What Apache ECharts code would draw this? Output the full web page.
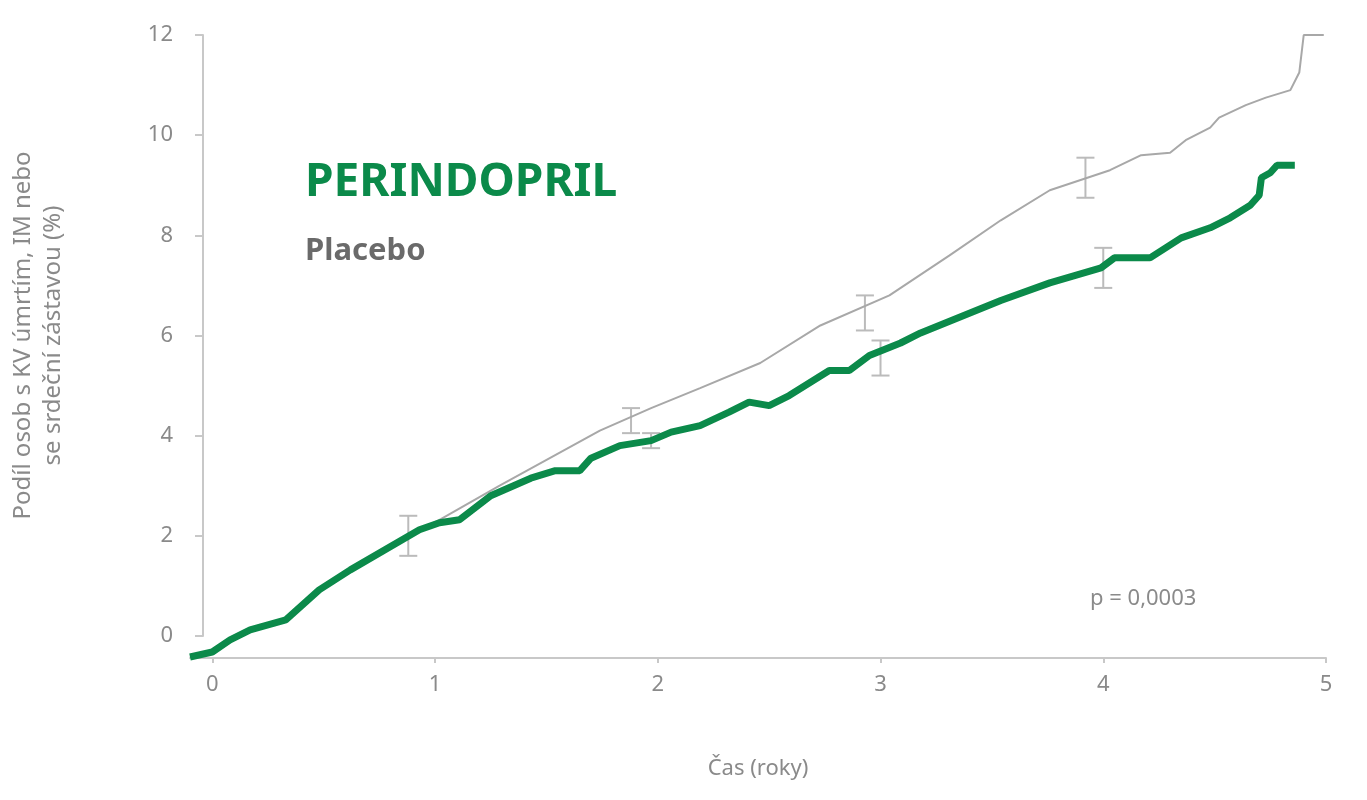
<!DOCTYPE html><html><head><meta charset="utf-8">
<script src="https://cdn.jsdelivr.net/npm/echarts@6/dist/echarts.min.js"></script>
<style>body{margin:0}#c{width:1367px;height:800px}</style></head><body><div id="c"></div>
<script>
const periX=[-0.1,0,0.08,0.17,0.33,0.48,0.62,0.93,1.02,1.11,1.25,1.43,1.54,1.65,1.7,1.83,1.97,2.06,2.19,2.32,2.41,2.5,2.59,2.77,2.86,2.95,3.09,3.18,3.54,3.76,3.99,4.05,4.21,4.28,4.35,4.48,4.57,4.66,4.7,4.71,4.75,4.78,4.86];
const periY=[-0.42,-0.32,-0.08,0.12,0.32,0.92,1.32,2.12,2.26,2.32,2.8,3.15,3.3,3.3,3.55,3.8,3.9,4.07,4.2,4.47,4.67,4.6,4.8,5.3,5.3,5.6,5.85,6.05,6.7,7.05,7.35,7.55,7.55,7.75,7.95,8.15,8.35,8.6,8.8,9.15,9.25,9.4,9.4];
const placX=[-0.1,0,0.08,0.17,0.33,0.48,0.62,0.93,1.02,1.29,1.74,1.97,2.19,2.46,2.73,3.04,3.31,3.54,3.76,4.03,4.17,4.3,4.37,4.48,4.52,4.64,4.73,4.84,4.88,4.9,4.99];
const placY=[-0.42,-0.32,-0.08,0.12,0.32,0.92,1.32,2.12,2.32,3.0,4.1,4.55,4.95,5.45,6.2,6.8,7.6,8.3,8.9,9.3,9.6,9.65,9.9,10.15,10.35,10.6,10.75,10.9,11.25,12.0,12.0];
const errX=[0.88,1.88,2.93,3.92,1.97,3.0,4.0];
const errY=[2.0,4.3,6.45,9.15,3.9,5.55,7.35];
const errE=[0.4,0.25,0.35,0.4,0.15,0.35,0.4];
const xTicks=[0,1,2,3,4,5];
const yTicks=[0,2,4,6,8,10,12];
const grey='#8a8a8a';
const ch=echarts.init(document.getElementById('c'));
ch.setOption({
 animation:false,
 grid:[{left:190,right:41,top:35,bottom:142},{left:188,right:41,top:35,bottom:164}],
 xAxis:[{type:'value',gridIndex:0,min:-0.1,max:5,splitLine:{show:false},
   axisLine:{onZero:false,lineStyle:{color:'#c8c8c8',width:2}},
   axisTick:{show:true,length:5,customValues:xTicks,lineStyle:{color:'#c8c8c8',width:2}},
   axisLabel:{color:grey,fontSize:22,margin:16,fontFamily:'Noto Sans',customValues:xTicks},
   name:'Čas (roky)',nameLocation:'middle',nameGap:100,nameTextStyle:{color:grey,fontSize:22,fontFamily:'Noto Sans'}},
  {type:'value',gridIndex:1,min:-0.1,max:5,show:false}],
 yAxis:[{type:'value',gridIndex:0,min:-0.44,max:12,show:false},
  {type:'value',gridIndex:1,min:0,max:12,interval:2,splitLine:{show:false},
   axisLine:{show:true,onZero:false,lineStyle:{color:'#c8c8c8',width:2}},axisTick:{show:true,length:8,lineStyle:{color:'#c8c8c8',width:2}},
   axisLabel:{color:grey,fontSize:22,margin:30,fontFamily:'Noto Sans'},
   name:'Podíl osob s KV úmrtím, IM nebo\nse srdeční zástavou (%)',nameLocation:'middle',nameGap:135,
   nameTextStyle:{color:grey,fontSize:24,fontFamily:'Noto Sans',lineHeight:30}}],
 series:[
  {type:'line',xAxisIndex:0,yAxisIndex:0,data:placX.map((x,i)=>[x,placY[i]]),showSymbol:false,lineStyle:{color:'#a8a8a8',width:2}},
  {type:'custom',xAxisIndex:0,yAxisIndex:0,data:errX.map((x,i)=>[x,errY[i]-errE[i],errY[i]+errE[i]]),
   renderItem:(p,api)=>{const a=api.coord([api.value(0),api.value(1)]),b=api.coord([api.value(0),api.value(2)]);const s={stroke:'#bbbbbb',lineWidth:2};
    return {type:'group',children:[{type:'line',shape:{x1:a[0],y1:a[1],x2:b[0],y2:b[1]},style:s},{type:'line',shape:{x1:a[0]-9,y1:a[1],x2:a[0]+9,y2:a[1]},style:s},{type:'line',shape:{x1:b[0]-9,y1:b[1],x2:b[0]+9,y2:b[1]},style:s}]};}},
  {type:'line',xAxisIndex:0,yAxisIndex:0,data:periX.map((x,i)=>[x,periY[i]]),showSymbol:false,lineStyle:{color:'#0b8a4a',width:7}}
 ],
 graphic:[
  {type:'text',left:305,top:160,style:{text:'PERINDOPRIL',fill:'#0b8a4a',font:'bold 46px "Noto Sans"'}},
  {type:'text',left:305,top:236,style:{text:'Placebo',fill:'#6a6a6a',font:'bold 31px "Noto Sans"'}},
  {type:'text',left:1090,top:588,style:{text:'p = 0,0003',fill:grey,font:'22px "Noto Sans"'}}
 ]
});
</script></body></html>
